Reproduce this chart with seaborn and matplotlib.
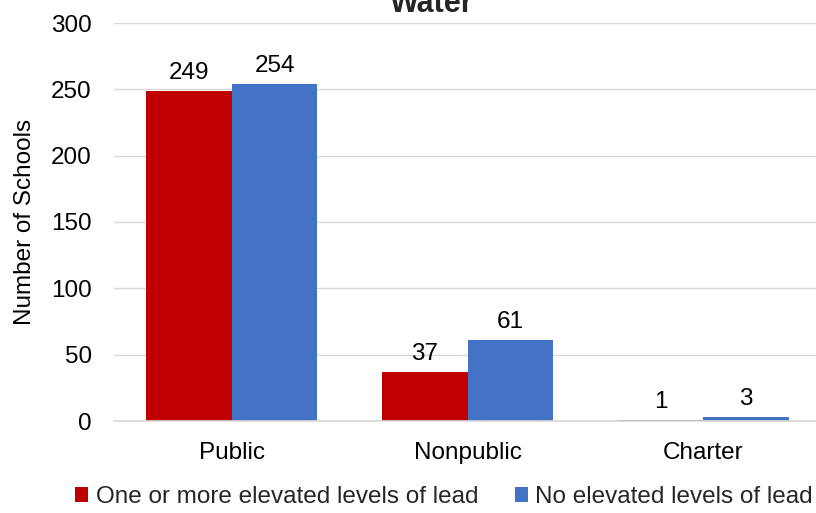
import matplotlib
matplotlib.use("Agg")
import matplotlib.pyplot as plt
import seaborn as sns
import pandas as pd

categories = ["Public", "Nonpublic", "Charter"]
series = ["One or more elevated levels of lead", "No elevated levels of lead"]
elevated = [249, 37, 1]
not_elevated = [254, 61, 3]
colors = ["#C00000", "#4472C4"]

df = pd.DataFrame({
    "type": categories * 2,
    "status": [series[0]] * 3 + [series[1]] * 3,
    "count": elevated + not_elevated,
})

sns.set_theme(style="white")
plt.rcParams["font.family"] = ["Liberation Sans", "DejaVu Sans"]
fs = 17.5

fig = plt.figure(figsize=(8.16, 5.13), dpi=100)
ax = fig.add_axes([114 / 816, 92 / 513, 707 / 816, 398 / 513])

sns.barplot(data=df, x="type", y="count", hue="status", palette=colors,
            width=0.726, saturation=1, linewidth=0, ax=ax, legend=True)

for cont in ax.containers:
    ax.bar_label(cont, padding=5, fontsize=fs, color="#000000")

ax.set_ylim(0, 300)
ax.set_xlim(-0.5, 2.5)
ax.set_yticks(range(0, 301, 50))
ax.yaxis.grid(True, color="#d9d9d9", linewidth=1)
ax.set_axisbelow(True)
for s in ["top", "right", "left"]:
    ax.spines[s].set_visible(False)
ax.spines["bottom"].set_color("#d9d9d9")
ax.tick_params(axis="both", length=0, labelsize=fs, colors="#000000")
ax.tick_params(axis="y", pad=16)
ax.tick_params(axis="x", pad=15)
ax.set_xlabel("")
ax.set_ylabel("Number of Schools", fontsize=fs, color="#000000", labelpad=11)

handles, labels = ax.get_legend_handles_labels()
ax.get_legend().remove()
leg = fig.legend(handles, labels, loc="center", bbox_to_anchor=(444 / 816, 16 / 513),
                 ncol=2, frameon=False, fontsize=fs, handlelength=0.55,
                 handleheight=0.55, handletextpad=0.3, columnspacing=1.5,
                 borderaxespad=0, borderpad=0)

fig.text(432 / 816, 1 - 12 / 513, "Water", ha="center", va="baseline",
         fontsize=22, fontweight="bold")

fig.savefig("out.png", dpi=100)
